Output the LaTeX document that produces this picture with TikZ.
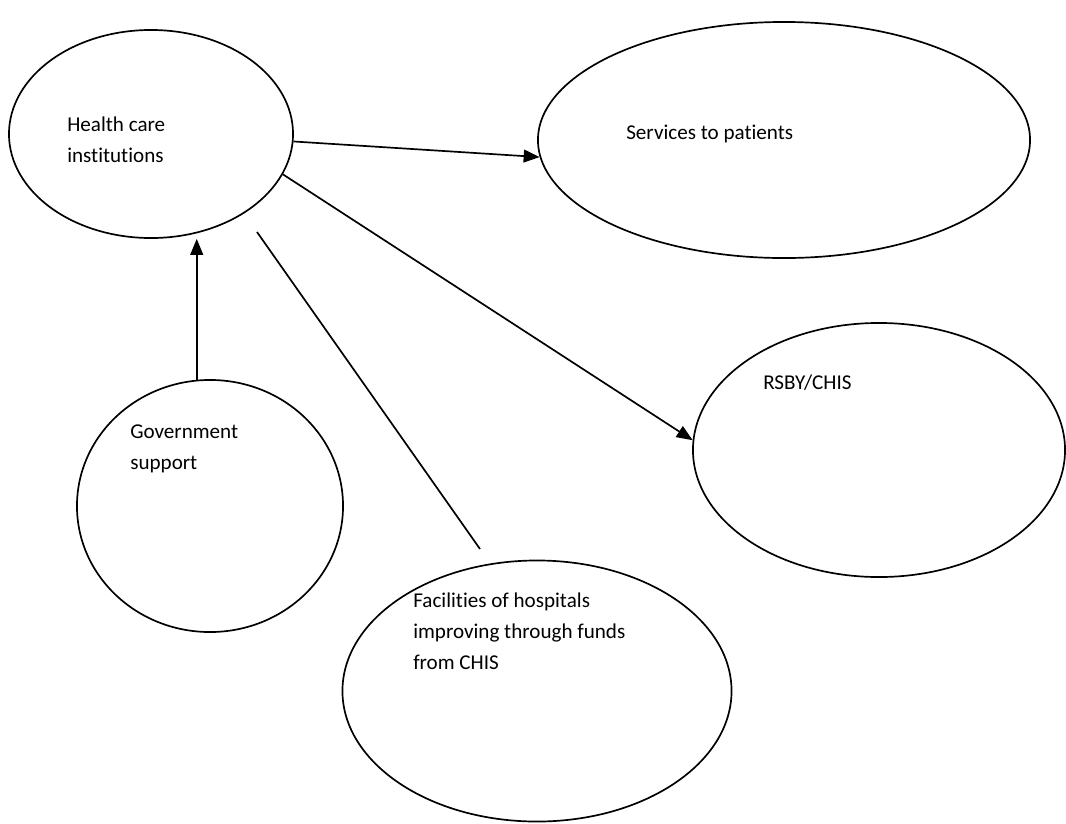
\documentclass[tikz,border=0pt]{standalone}
\usepackage{fontspec}
\setmainfont[Ligatures=CommonOff]{Carlito}
\usetikzlibrary{shapes,arrows.meta,positioning,calc}

\tikzset{
  bubble/.style={draw,ellipse,inner sep=0pt,line width=1.2pt},
  txt/.style={anchor=west,align=left,inner sep=0pt,font=\fontsize{15}{22}\selectfont},
  arr/.style={-{Triangle[length=0.4cm,width=0.32cm]},line width=1.2pt}
}

\begin{document}
\begin{tikzpicture}[x=0.025cm,y=-0.025cm]
\useasboundingbox (0,0) rectangle (1066,823);
% Health care scheme
\node[bubble,minimum width=7.1cm,minimum height=5.2cm] (hc) at (151,134) {};
\node[bubble,minimum width=12.3cm,minimum height=5.9cm] (serv) at (784,140) {};
\node[bubble,minimum width=9.3cm,minimum height=6.35cm] (rsby) at (879,450) {};
\node[bubble,minimum width=6.65cm,minimum height=6.3cm] (gov) at (210,506) {};
\node[bubble,minimum width=9.725cm,minimum height=6.525cm] (fac) at (537,691) {};

\node[txt] (hctext) at (67,140) {Health care\\institutions};
\node[txt] (servtext) at (626,134) {Services to patients};
\node[txt] (rsbytext) at (763,383) {RSBY/CHIS};
\node[txt] (govtext) at (130,449) {Government\\support};
\node[txt] (factext) at (413,631) {Facilities of hospitals\\improving through funds\\from CHIS};

\coordinate (linetop) at (257,232);
\coordinate (linebot) at (480,549);

\draw[arr] (hc.-3) -- (serv.184.6);
\draw[arr] (hc.-17) -- (rsby.177);
\draw[arr] (gov.96) -- (gov.96 |- hc.south);
\draw[line width=1.2pt] (linetop) -- (linebot);
\end{tikzpicture}
\end{document}
